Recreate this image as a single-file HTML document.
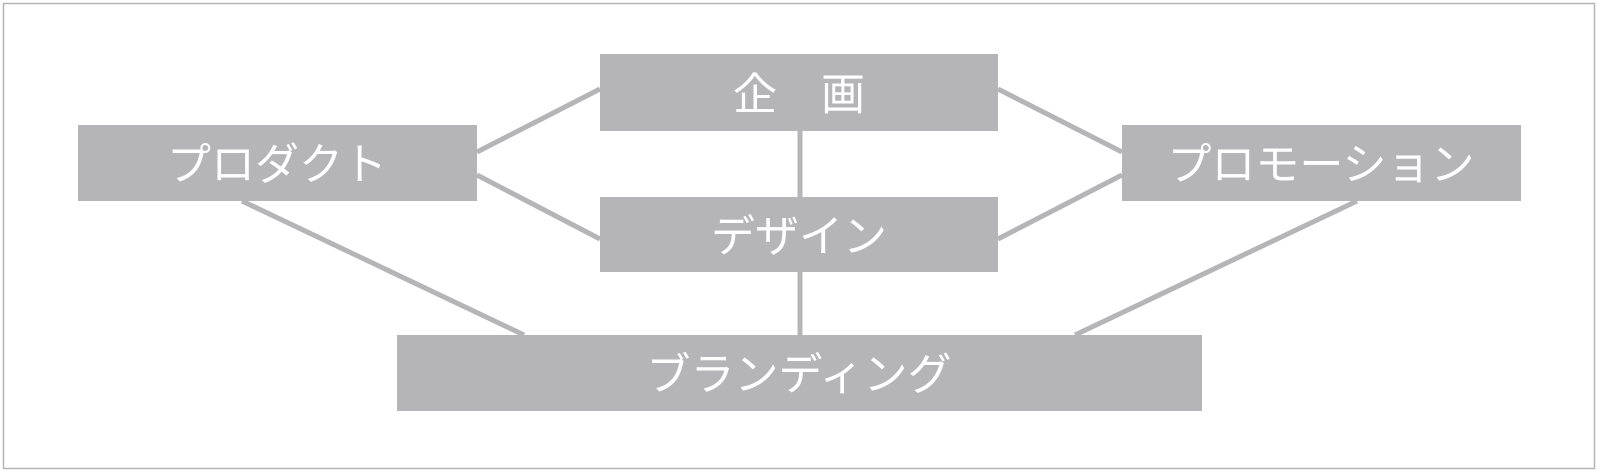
<!DOCTYPE html>
<html><head><meta charset="utf-8"><style>
html,body{margin:0;padding:0;background:#fff;width:1599px;height:471px;overflow:hidden}
svg text{font-family:"Liberation Sans","Noto Sans CJK JP",sans-serif;fill:#fff;font-size:44px;text-anchor:middle;dominant-baseline:central;font-weight:400}
</style></head><body>
<svg width="1599" height="471" viewBox="0 0 1599 471">
<rect x="3.5" y="3.5" width="1591" height="465" fill="#fff" stroke="#b5b5b7" stroke-width="1.5"/>
<g stroke="#b5b5b7" stroke-width="5" fill="none">
<line x1="477" y1="152" x2="600" y2="89"/>
<line x1="477" y1="175" x2="600" y2="239"/>
<line x1="998" y1="89" x2="1122" y2="152"/>
<line x1="998" y1="239" x2="1122" y2="175"/>
<line x1="800" y1="131" x2="800" y2="197"/>
<line x1="800" y1="272" x2="800" y2="335"/>
<line x1="242" y1="201" x2="524" y2="335"/>
<line x1="1357" y1="201" x2="1075" y2="335"/>
</g>
<g fill="#b5b5b7">
<rect x="600" y="54" width="398" height="77"/>
<rect x="600" y="197" width="398" height="75"/>
<rect x="78" y="125" width="399" height="76"/>
<rect x="1122" y="125" width="399" height="76"/>
<rect x="397" y="335" width="805" height="76"/>
</g>
<text x="799" y="95">企　画</text>
<text x="799" y="237">デザイン</text>
<text x="277" y="165">プロダクト</text>
<text x="1321" y="165">プロモーション</text>
<text x="799" y="375">ブランディング</text>
</svg>
</body></html>
